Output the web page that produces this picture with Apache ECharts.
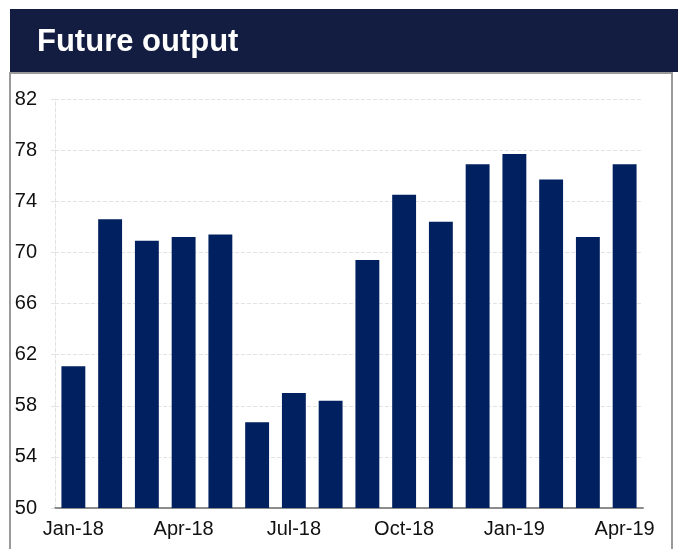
<!DOCTYPE html>
<html>
<head>
<meta charset="utf-8">
<script src="https://cdn.jsdelivr.net/npm/echarts@6/dist/echarts.min.js"></script>
<style>
  html, body { margin: 0; padding: 0; background: #fff; }
  #chart { width: 678px; height: 549px; }
</style>
</head>
<body>
<div id="chart"></div>
<script>
const FONT = '"Liberation Sans", Arial, sans-serif'

const months = [
  'Jan-18', 'Feb-18', 'Mar-18', 'Apr-18', 'May-18', 'Jun-18', 'Jul-18', 'Aug-18',
  'Sep-18', 'Oct-18', 'Nov-18', 'Dec-18', 'Jan-19', 'Feb-19', 'Mar-19', 'Apr-19',
]
const output = [61.1, 72.6, 70.9, 71.2, 71.4, 56.7, 59.0, 58.4, 69.4, 74.5, 72.4, 76.9, 77.7, 75.7, 71.2, 76.9]
const yTicks = { min: 50, max: 82, step: 4 }

const myChart = echarts.init(document.getElementById('chart'))

const options = {
  animation: false,
  graphic: [
    // title bar
    { type: 'rect', shape: { x: 10, y: 9, width: 668, height: 63 }, style: { fill: '#131c41' }, z: 10 },
    {
      type: 'text', x: 37, y: 42, z: 11,
      style: { text: 'Future output', fill: '#fff', font: 'bold 31px ' + FONT, verticalAlign: 'middle' },
    },
    // frame
    {
      type: 'rect', shape: { x: 10, y: 73, width: 662, height: 500 }, z: -1,
      style: { fill: 'none', stroke: '#9a9a9a', lineWidth: 2 },
    },
  ],
  grid: { left: 55, right: 35, top: 99, bottom: 41 },
  xAxis: {
    type: 'category',
    data: months,
    axisLine: { lineStyle: { color: '#8c8c8c', width: 2 } },
    axisTick: { interval: 2, length: 6, lineStyle: { color: '#8c8c8c', width: 2 } },
    axisLabel: { interval: 2, color: '#111', fontFamily: FONT, fontSize: 20, margin: 11 },
  },
  yAxis: {
    type: 'value',
    min: yTicks.min,
    max: yTicks.max,
    interval: yTicks.step,
    axisLine: { show: true, lineStyle: { color: '#e3e3e3', type: 'dashed' } },
    axisTick: { show: true, length: 6, lineStyle: { color: '#e3e3e3', type: 'dashed' } },
    axisLabel: { color: '#111', fontFamily: FONT, fontSize: 20, margin: 18 },
    splitLine: { lineStyle: { color: '#e3e3e3', type: 'dashed' } },
  },
  series: [
    {
      type: 'bar',
      data: output,
      barWidth: '65%',
      itemStyle: { color: '#012060' },
    },
  ],
}

myChart.setOption(options)
</script>
</body>
</html>
